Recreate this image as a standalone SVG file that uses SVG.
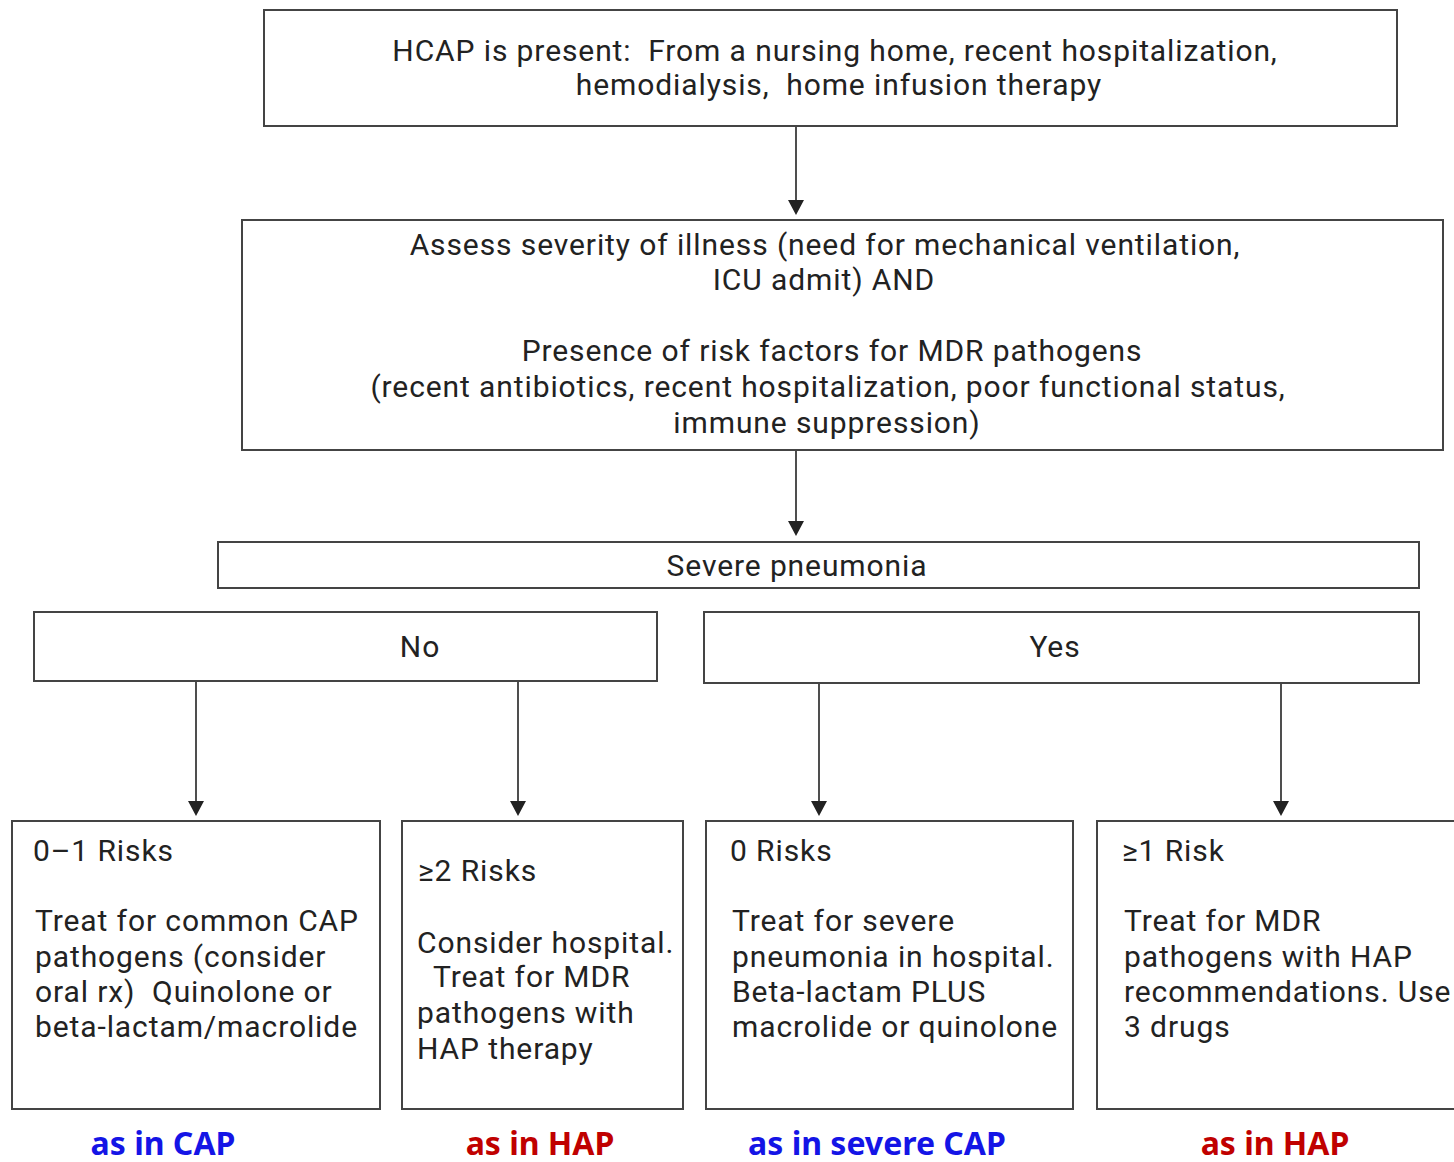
<svg xmlns="http://www.w3.org/2000/svg" width="1454" height="1162" viewBox="0 0 1454 1162">
<style>
.box{fill:#fff;stroke:#444;stroke-width:2}
.t{font-family:Roboto,"Liberation Sans",sans-serif;font-size:30px;letter-spacing:0.9px;fill:#222}
.c{text-anchor:middle}
.conn{stroke:#222;stroke-width:1.6;fill:none}
.lbl{font-family:"Noto Sans","Liberation Sans",sans-serif;font-weight:bold;font-size:32px;text-anchor:middle}
.blue{fill:#1414e6}
.red{fill:#c00000}
</style>
<rect width="1454" height="1162" fill="#fff"/>
<g id="connectors">
<line class="conn" x1="796" y1="126" x2="796" y2="200"/><path d="M788,200 L804,200 L796,215 Z" fill="#222"/>
<line class="conn" x1="796" y1="450" x2="796" y2="521"/><path d="M788,521 L804,521 L796,536 Z" fill="#222"/>
<line class="conn" x1="196" y1="681" x2="196" y2="801"/><path d="M188,801 L204,801 L196,816 Z" fill="#222"/>
<line class="conn" x1="518" y1="681" x2="518" y2="801"/><path d="M510,801 L526,801 L518,816 Z" fill="#222"/>
<line class="conn" x1="819" y1="683" x2="819" y2="801"/><path d="M811,801 L827,801 L819,816 Z" fill="#222"/>
<line class="conn" x1="1281" y1="683" x2="1281" y2="801"/><path d="M1273,801 L1289,801 L1281,816 Z" fill="#222"/>
</g>
<g id="hcap">
<rect class="box" x="264" y="10" width="1133" height="116"/>
<text class="t c" x="835" y="61" xml:space="preserve">HCAP is present:  From a nursing home, recent hospitalization,</text>
<text class="t c" x="839" y="95" xml:space="preserve">hemodialysis,  home infusion therapy</text>
</g>
<g id="assess">
<rect class="box" x="242" y="220" width="1201" height="230"/>
<text class="t c" x="825" y="255">Assess severity of illness (need for mechanical ventilation,</text>
<text class="t c" x="824" y="290">ICU admit) AND</text>
<text class="t c" x="832" y="361">Presence of risk factors for MDR pathogens</text>
<text class="t c" x="828" y="397">(recent antibiotics, recent hospitalization, poor functional status,</text>
<text class="t c" x="827" y="433">immune suppression)</text>
</g>
<g id="severe">
<rect class="box" x="218" y="542" width="1201" height="46"/>
<text class="t c" x="797" y="576">Severe pneumonia</text>
</g>
<g id="no">
<rect class="box" x="34" y="612" width="623" height="69"/>
<text class="t c" x="420" y="657">No</text>
</g>
<g id="yes">
<rect class="box" x="704" y="612" width="715" height="71"/>
<text class="t c" x="1055" y="657">Yes</text>
</g>
<g id="risk01">
<rect class="box" x="12" y="821" width="368" height="288"/>
<text class="t" x="33" y="861">0–1 Risks</text>
<text class="t" x="35" y="931">Treat for common CAP</text>
<text class="t" x="35" y="967">pathogens (consider</text>
<text class="t" x="35" y="1002" xml:space="preserve">oral rx)  Quinolone or</text>
<text class="t" x="35" y="1037">beta-lactam/macrolide</text>
</g>
<g id="risk2">
<rect class="box" x="402" y="821" width="281" height="288"/>
<text class="t" x="418" y="881">≥2 Risks</text>
<text class="t" x="417" y="953">Consider hospital.</text>
<text class="t" x="433" y="987">Treat for MDR</text>
<text class="t" x="417" y="1023">pathogens with</text>
<text class="t" x="417" y="1059">HAP therapy</text>
</g>
<g id="risk0">
<rect class="box" x="706" y="821" width="367" height="288"/>
<text class="t" x="730" y="861">0 Risks</text>
<text class="t" x="732" y="931">Treat for severe</text>
<text class="t" x="732" y="967">pneumonia in hospital.</text>
<text class="t" x="732" y="1002">Beta-lactam PLUS</text>
<text class="t" x="732" y="1037">macrolide or quinolone</text>
</g>
<g id="risk1">
<rect class="box" x="1097" y="821" width="370" height="288"/>
<text class="t" x="1122" y="861">≥1 Risk</text>
<text class="t" x="1124" y="931">Treat for MDR</text>
<text class="t" x="1124" y="967">pathogens with HAP</text>
<text class="t" x="1124" y="1002">recommendations. Use</text>
<text class="t" x="1124" y="1037">3 drugs</text>
</g>
<g id="labels">
<text class="lbl blue" x="163" y="1155">as in CAP</text>
<text class="lbl red" x="540" y="1155">as in HAP</text>
<text class="lbl blue" x="877" y="1155">as in severe CAP</text>
<text class="lbl red" x="1275" y="1155">as in HAP</text>
</g>
</svg>
